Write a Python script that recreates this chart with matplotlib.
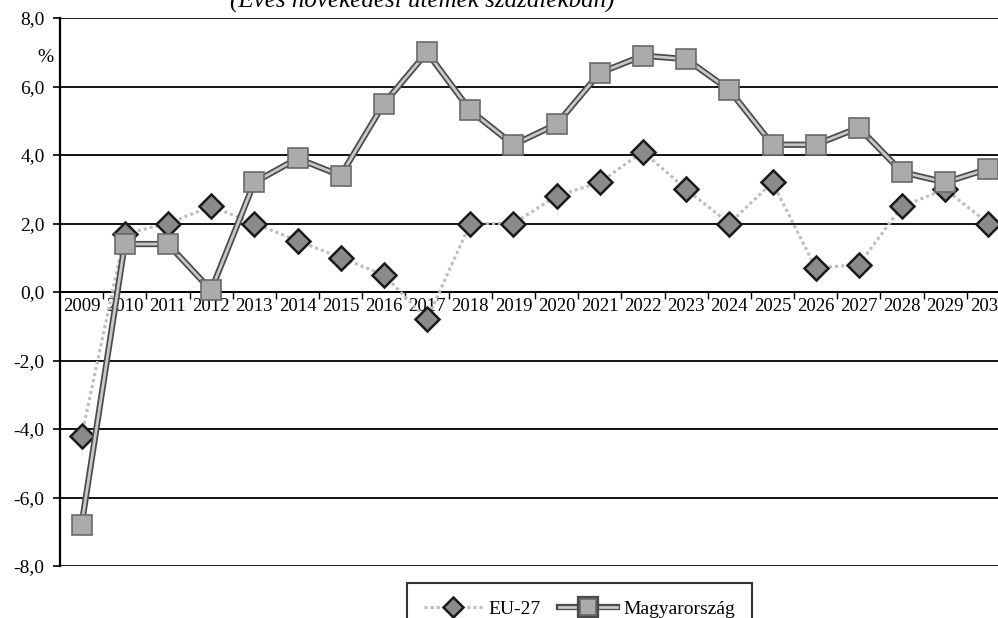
import matplotlib
matplotlib.use("Agg")
import matplotlib.pyplot as plt
import matplotlib.patheffects as pe
from matplotlib.lines import Line2D

plt.rcParams["font.family"] = ["Liberation Serif", "DejaVu Serif"]

evek = [str(e) for e in range(2009, 2031)]
eu27 = [-4.2, 1.7, 2.0, 2.5, 2.0, 1.5, 1.0, 0.5, -0.8, 2.0, 2.0,
        2.8, 3.2, 4.1, 3.0, 2.0, 3.2, 0.7, 0.8, 2.5, 3.0, 2.0]
magyar = [-6.8, 1.4, 1.4, 0.05, 3.2, 3.9, 3.4, 5.5, 7.0, 5.3, 4.3,
          4.9, 6.4, 6.9, 6.8, 5.9, 4.3, 4.3, 4.8, 3.5, 3.2, 3.6]
y_ticks = [-8, -6, -4, -2, 0, 2, 4, 6, 8]

fig = plt.figure(figsize=(9.98, 6.18), dpi=100)
ax = fig.add_axes([60 / 998, 52 / 618, 950 / 998, 548 / 618])

x = list(range(len(evek)))

# EU-27: halvany pontozott vonal, sotet rombusz
ax.plot(x, eu27, color="#bdbdbd", lw=2.2, ls=(0, (1, 1)), zorder=3)
ax.plot(x, eu27, ls="none", marker="D", ms=12, mfc="#8a8a8a",
        mec="#1a1a1a", mew=1.8, zorder=4)

# Magyarorszag: dupla vonal, szurke negyzet
dupla = [pe.Stroke(linewidth=4.5, foreground="#4a4a4a"), pe.Normal()]
ax.plot(x, magyar, color="#c8c8c8", lw=2, path_effects=dupla, zorder=5)
ax.plot(x, magyar, ls="none", marker="s", ms=15, mfc="#ababab",
        mec="#6a6a6a", mew=1.2, zorder=6)

ax.set_xlim(-0.5, len(evek) - 0.5)
ax.set_ylim(-8, 8)
ax.set_yticks(y_ticks)
ax.set_yticklabels([f"{v:.1f}".replace(".", ",") for v in y_ticks])
ax.yaxis.grid(True, color="black", lw=1.3)
ax.set_axisbelow(True)
ax.tick_params(axis="y", length=5, width=1.2, pad=6, labelsize=14)

ax.set_xticks(x)
ax.set_xticklabels(evek)
ax.set_xticks([i + 0.5 for i in x], minor=True)
ax.tick_params(axis="x", which="major", length=0, pad=4, labelsize=13.5)
ax.tick_params(axis="x", which="minor", length=5, width=1, direction="out")

for s in ["top", "right"]:
    ax.spines[s].set_visible(False)
ax.spines["bottom"].set_position(("data", 0))
ax.spines["bottom"].set_linewidth(1.3)
ax.spines["left"].set_linewidth(1.6)

fig.text(45 / 998, 1 - 57 / 618, "%", fontsize=14, ha="center", va="center")
fig.text(422 / 998, 1 - 7 / 618, "(Éves növekedési ütemek százalékban)",
         fontsize=18, style="italic", ha="center", va="baseline")

kezek = [
    Line2D([], [], color="#bdbdbd", lw=2.2, ls=(0, (1, 1)), marker="D", ms=10,
           mfc="#8a8a8a", mec="#1a1a1a", mew=1.8),
    Line2D([], [], color="#c8c8c8", lw=2, path_effects=dupla, marker="s", ms=12,
           mfc="#ababab", mec="#6a6a6a", mew=1.2),
]
leg = fig.legend(kezek, ["EU-27", "Magyarország"], loc="upper left",
                 bbox_to_anchor=(397 / 998, 0, 365 / 998, 1 - 573 / 618),
                 mode="expand", ncol=2, fontsize=14, frameon=True,
                 fancybox=False, edgecolor="black", borderpad=0.9,
                 handlelength=3.0, handletextpad=0.3, columnspacing=1.5)
leg.get_frame().set_linewidth(1.5)

fig.savefig("out.png", dpi=100)
